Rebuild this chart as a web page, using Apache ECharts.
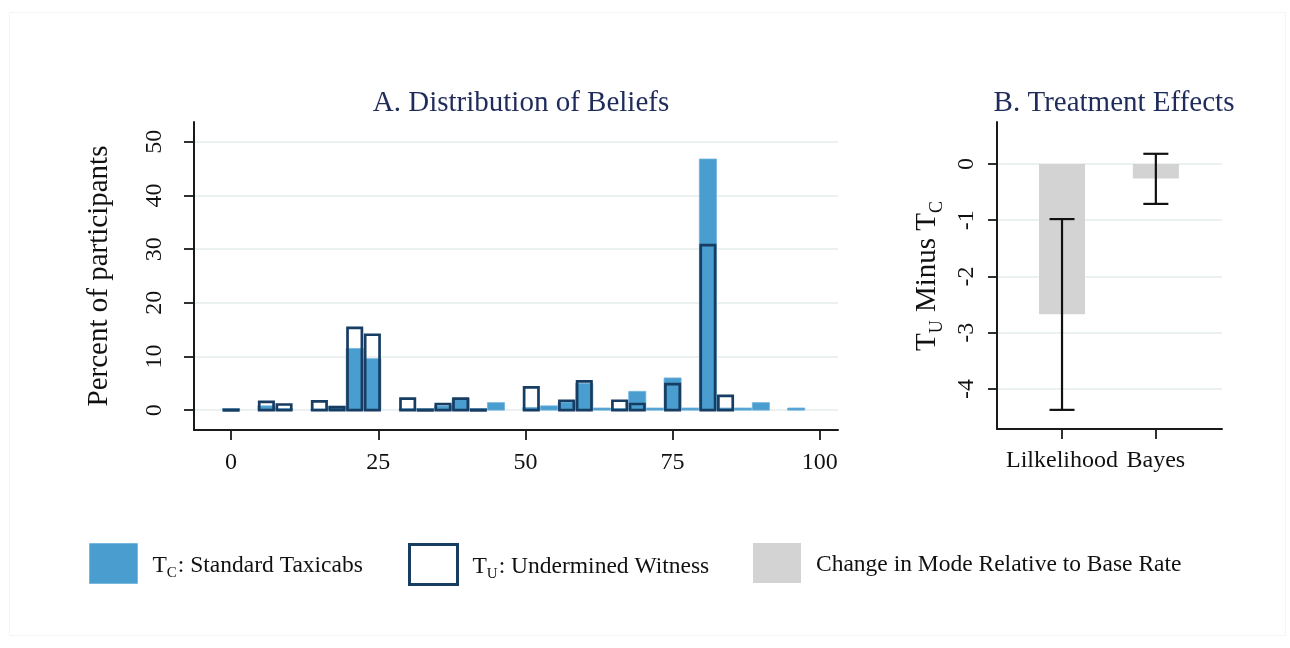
<!DOCTYPE html>
<html>
<head>
<meta charset="utf-8">
<script src="https://cdn.jsdelivr.net/npm/echarts@6/dist/echarts.min.js"></script>
<style>
  html, body { margin: 0; padding: 0; background: #ffffff; }
  #chart { width: 1290px; height: 648px; }
</style>
</head>
<body>
<div id="chart"></div>
<script>
// ---- Panel A: distribution of beliefs (bins of 3 points, centred on the value) ----
const beliefBins   = [0, 3, 6, 9, 12, 15, 18, 21, 24, 27, 30, 33, 36, 39, 42, 45, 48,
                      51, 54, 57, 60, 63, 66, 69, 72, 75, 78, 81, 84, 87, 90, 93, 96, 99];
// percent of participants, standard taxicabs arm
const standardPct  = [0.3, 0, 0.8, 0.3, 0, 0.2, 0.7, 11.5, 9.6, 0, 0.3, 0.3, 0.8, 2.2, 0.3, 1.4, 0,
                      0.5, 0.8, 1.5, 5.0, 0.4, 0.3, 3.5, 0.4, 6.0, 0.4, 46.8, 0.4, 0.4, 1.4, 0, 0.4, 0];
// percent of participants, undermined witness arm
const underminedPct = [0.3, 0, 1.8, 1.3, 0, 1.9, 0.8, 15.6, 14.3, 0, 2.4, 0.3, 1.4, 2.4, 0.3, 0, 0,
                       4.5, 0, 2.0, 5.6, 0, 2.0, 1.4, 0, 5.1, 0, 31.0, 2.9, 0, 0, 0, 0, 0];
const beliefTicks  = [0, 25, 50, 75, 100];
const percentTicks = [0, 10, 20, 30, 40, 50];

// ---- Panel B: treatment effects on the mode ----
const effectCats   = ['Lilkelihood', 'Bayes'];
const effectPos    = [1, 2];
const effectValues = [-2.67, -0.26];
const ciLow        = [-4.37, -0.71];
const ciHigh       = [-0.98, 0.18];
const effectTicks  = [0, -1, -2, -3, -4];

// ---- styling ----
const SERIF = '"Liberation Serif", "Times New Roman", serif';
const BLUE = '#4a9dcf';
const NAVY = '#173d62';
const GREY = '#d3d3d3';
const GRID_LINE = '#e4ecec';
const TITLE_COLOR = '#1f2b5a';
const BIN_HALF = 1.45;      // half bin width in belief units
const OUTLINE_W = 2.7;

const standardData = beliefBins.map((b, i) => [b, standardPct[i]]);
const underminedData = beliefBins.map((b, i) => [b, underminedPct[i]]);
const effectData = effectPos.map((p, i) => [p, effectValues[i]]);
const ciData = effectPos.map((p, i) => [p, ciLow[i], ciHigh[i]]);

function filledBin(params, api) {
  const x = api.value(0), y = api.value(1);
  if (!(y > 0)) return null;
  const a = api.coord([x - BIN_HALF, 0]);
  const b = api.coord([x + BIN_HALF, y]);
  return {
    type: 'rect',
    shape: { x: a[0], y: b[1], width: b[0] - a[0], height: a[1] - b[1] },
    style: { fill: BLUE, stroke: '#6fb2dc', lineWidth: 0.8 }
  };
}

function outlineBin(params, api) {
  const x = api.value(0), y = api.value(1);
  if (!(y > 0)) return null;
  const a = api.coord([x - BIN_HALF, 0]);
  const b = api.coord([x + BIN_HALF, y]);
  const h = OUTLINE_W / 2;
  return {
    type: 'rect',
    shape: {
      x: a[0] + h, y: b[1] + h,
      width: Math.max(b[0] - a[0] - 2 * h, 0),
      height: Math.max(a[1] - b[1] - h, 0.5)
    },
    style: { fill: 'none', stroke: NAVY, lineWidth: OUTLINE_W }
  };
}

function effectBar(params, api) {
  const x = api.value(0), y = api.value(1);
  const a = api.coord([x, 0]);
  const b = api.coord([x, y]);
  const half = 23;
  return {
    type: 'rect',
    shape: { x: a[0] - half, y: Math.min(a[1], b[1]), width: 2 * half, height: Math.abs(b[1] - a[1]) },
    style: { fill: GREY }
  };
}

function errorBar(params, api) {
  const x = api.value(0);
  const lo = api.coord([x, api.value(1)]);
  const hi = api.coord([x, api.value(2)]);
  const cap = 12.5;
  const st = { stroke: '#111', lineWidth: 2.2 };
  return {
    type: 'group',
    children: [
      { type: 'line', shape: { x1: lo[0], y1: lo[1], x2: hi[0], y2: hi[1] }, style: st },
      { type: 'line', shape: { x1: lo[0] - cap, y1: lo[1], x2: lo[0] + cap, y2: lo[1] }, style: st },
      { type: 'line', shape: { x1: hi[0] - cap, y1: hi[1], x2: hi[0] + cap, y2: hi[1] }, style: st }
    ]
  };
}

const axisLineStyle = { show: true, onZero: false, lineStyle: { color: '#1a1a1a', width: 2 } };
const tickLine = { color: '#1a1a1a', width: 1.8 };

// text with a lowered subscript letter
const legendRich = {
  a: { fontFamily: SERIF, fontSize: 23.5, color: '#111', verticalAlign: 'top', lineHeight: 26, padding: [3, 0, 0, 0] },
  s: { fontFamily: SERIF, fontSize: 15, color: '#111', verticalAlign: 'top', lineHeight: 16, padding: [15, 1, 0, 0] },
  sp: { width: 10, verticalAlign: 'top', lineHeight: 26 }
};

const legendNames = {
  tc: '{sp|}{a|T}{s|C}{a|: Standard Taxicabs}',
  tu: '{sp|}{a|T}{s|U}{a|: Undermined Witness}',
  mode: '{sp|}{a|Change in Mode Relative to Base Rate}'
};
function legendAt(left, name, itemStyle) {
  return {
    left: left, top: 543, orient: 'horizontal', padding: 0,
    itemWidth: 48, itemHeight: 40, icon: 'rect',
    selectedMode: false,
    data: [{ name: name, itemStyle: itemStyle }],
    formatter: n => legendNames[n],
    textStyle: { rich: legendRich }
  };
}

const option = {
  backgroundColor: '#ffffff',
  animation: false,
  title: [
    { text: 'A. Distribution of Beliefs', left: 516, top: 84, textAlign: 'center',
      textStyle: { fontFamily: SERIF, fontSize: 29, fontWeight: 'normal', color: TITLE_COLOR } },
    { text: 'B. Treatment Effects', left: 1109, top: 84, textAlign: 'center',
      textStyle: { fontFamily: SERIF, fontSize: 29, fontWeight: 'normal', color: TITLE_COLOR } }
  ],
  legend: [
    legendAt(89, 'tc', { color: BLUE, borderColor: '#7ab8df', borderWidth: 1 }),
    legendAt(408, 'tu', { color: '#ffffff', borderColor: NAVY, borderWidth: 3 }),
    legendAt(753, 'mode', { color: GREY, borderWidth: 0 })
  ],
  graphic: [{
    type: 'rect', silent: true, z: -10,
    shape: { x: 9.5, y: 12.5, width: 1276, height: 623 },
    style: { fill: 'none', stroke: '#f4f4f4', lineWidth: 1 }
  }],
  grid: [
    { left: 194, top: 122, width: 644, height: 308, outerBoundsMode: 'none' },
    { left: 997, top: 122, width: 225, height: 307, outerBoundsMode: 'none' }
  ],
  xAxis: [
    {
      type: 'value', gridIndex: 0, min: -6.3, max: 103.1,
      axisLine: axisLineStyle,
      axisTick: { show: true, length: 10, customValues: beliefTicks, lineStyle: tickLine },
      axisLabel: { customValues: beliefTicks, margin: 21, fontFamily: SERIF, fontSize: 24, color: '#111' },
      splitLine: { show: false }
    },
    {
      type: 'value', gridIndex: 1, min: 0.307, max: 2.705,
      axisLine: axisLineStyle,
      axisTick: { show: true, length: 10, customValues: effectPos, lineStyle: tickLine },
      axisLabel: { customValues: effectPos, margin: 20, fontFamily: SERIF, fontSize: 24, color: '#111',
                   formatter: v => effectCats[effectPos.indexOf(v)] || '' },
      splitLine: { show: false }
    }
  ],
  yAxis: [
    {
      type: 'value', gridIndex: 0, min: -3.7, max: 53.7,
      name: 'Percent of participants', nameLocation: 'middle', nameRotate: 90, nameGap: 80,
      nameTextStyle: { fontFamily: SERIF, fontSize: 29, color: '#111' },
      axisLine: axisLineStyle,
      axisTick: { show: true, length: 10, customValues: percentTicks, lineStyle: tickLine },
      axisLabel: { customValues: percentTicks, rotate: 90, margin: 27, fontFamily: SERIF, fontSize: 24, color: '#111' },
      splitLine: { show: true, lineStyle: { color: GRID_LINE, width: 1.5 } }
    },
    {
      type: 'value', gridIndex: 1, min: -4.71, max: 0.745,
      name: '{a|T}{s|U}{a| Minus T}{s|C}', nameLocation: 'middle', nameRotate: 90, nameGap: 52,
      nameTextStyle: {
        rich: {
          a: { fontFamily: SERIF, fontSize: 29, color: '#111', verticalAlign: 'top', lineHeight: 32 },
          s: { fontFamily: SERIF, fontSize: 18, color: '#111', verticalAlign: 'top', lineHeight: 20, padding: [15, 1, 0, 0] }
        }
      },
      axisLine: axisLineStyle,
      axisTick: { show: true, length: 9, customValues: effectTicks, lineStyle: tickLine },
      axisLabel: { customValues: effectTicks, rotate: 90, margin: 18, fontFamily: SERIF, fontSize: 24, color: '#111' },
      splitLine: { show: true, lineStyle: { color: GRID_LINE, width: 1.5 } }
    }
  ],
  series: [
    { name: 'tc', type: 'custom', xAxisIndex: 0, yAxisIndex: 0, renderItem: filledBin,
      data: standardData, itemStyle: { color: BLUE }, z: 2, clip: true },
    { name: 'tu', type: 'custom', xAxisIndex: 0, yAxisIndex: 0, renderItem: outlineBin,
      data: underminedData, itemStyle: { color: NAVY }, z: 3, clip: true },
    { name: 'mode', type: 'custom', xAxisIndex: 1, yAxisIndex: 1, renderItem: effectBar,
      data: effectData, itemStyle: { color: GREY }, z: 2 },
    { name: 'ci', type: 'custom', xAxisIndex: 1, yAxisIndex: 1, renderItem: errorBar,
      data: ciData, z: 3 }
  ]
};

const chart = echarts.init(document.getElementById('chart'), null, { renderer: 'canvas' });
chart.setOption(option);
</script>
</body>
</html>
